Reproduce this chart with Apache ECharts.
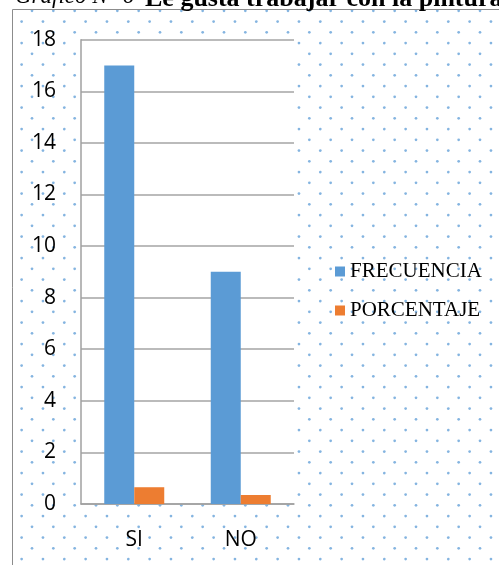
<!DOCTYPE html>
<html>
<head>
<meta charset="utf-8">
<script src="https://cdn.jsdelivr.net/npm/echarts@6/dist/echarts.min.js"></script>
<style>
  html, body { margin: 0; padding: 0; background: #fff; }
  #chart { width: 499px; height: 565px; }
</style>
</head>
<body>
<div id="chart"></div>
<script>
// datos del gráfico
var categorias = ["SI", "NO"];
var frecuencia = [17, 9];
var porcentaje = [0.65, 0.35];
var nombresSeries = ["FRECUENCIA", "PORCENTAJE"];
var ejeY = { min: 0, max: 18, interval: 2 };

// fondo punteado (patrón de puntos azules)
function patronPuntos() {
  var W = 64, H = 43;
  var c = document.createElement("canvas");
  c.width = W;
  c.height = H;
  var ctx = c.getContext("2d");
  ctx.fillStyle = "rgba(91,155,213,0.75)";
  var dx = W / 3, dy = H / 4;
  for (var r = 0; r < 4; r++) {
    var y = 0.05 + r * dy;
    var off = r % 2 == 1 ? 10.67 : 0.3;
    for (var k = 0; k < 3; k++) {
      var x = off + k * dx;
      for (var ox = -1; ox <= 1; ox++) {
        for (var oy = -1; oy <= 1; oy++) {
          ctx.beginPath();
          ctx.arc(x + ox * W, y + oy * H, 1.35, 0, Math.PI * 2);
          ctx.fill();
        }
      }
    }
  }
  return c;
}

var myChart = echarts.init(document.getElementById("chart"));

var option = {
  backgroundColor: "#fff",
  animation: false,
  graphic: [
    {
      type: "rect",
      z: -10,
      silent: true,
      shape: { x: 12.5, y: 9.5, width: 500, height: 570 },
      style: {
        fill: { image: patronPuntos(), repeat: "repeat" },
        stroke: "#8c8c8c",
        lineWidth: 1
      }
    },
    {
      type: "text",
      left: 15,
      top: -15,
      style: {
        text: "Gráfico N° 6",
        font: "italic 23px 'Liberation Serif'",
        fill: "#000"
      }
    },
    {
      type: "text",
      left: 145,
      top: -13.5,
      style: {
        text: "Le gusta trabajar con la pintura",
        font: "bold 26px 'Liberation Serif'",
        fill: "#000"
      }
    }
  ],
  legend: {
    orient: "vertical",
    left: 335,
    top: 261,
    padding: 0,
    itemGap: 18,
    itemWidth: 10,
    itemHeight: 10,
    icon: "rect",
    data: nombresSeries,
    textStyle: {
      fontFamily: "Liberation Serif",
      fontSize: 21,
      lineHeight: 20,
      color: "#000"
    }
  },
  grid: {
    left: 81,
    right: 205,
    top: 39.7,
    bottom: 61,
    show: true,
    backgroundColor: "#fff",
    borderWidth: 0
  },
  xAxis: {
    type: "category",
    data: categorias,
    axisTick: { show: false },
    axisLine: { lineStyle: { color: "#a0a0a0", width: 1.5 } },
    axisLabel: {
      margin: 26,
      fontFamily: "Open Sans",
      fontSize: 21,
      color: "#000"
    }
  },
  yAxis: {
    type: "value",
    min: ejeY.min,
    max: ejeY.max,
    interval: ejeY.interval,
    axisLine: { show: true, lineStyle: { color: "#a0a0a0", width: 1.5 } },
    axisTick: { show: false },
    splitLine: { lineStyle: { color: "#a5a5a5", width: 1.5 } },
    axisLabel: {
      margin: 25,
      fontFamily: "Open Sans",
      fontSize: 21,
      color: "#000"
    }
  },
  series: [
    {
      name: nombresSeries[0],
      type: "bar",
      data: frecuencia,
      barWidth: 30,
      barGap: "0%",
      itemStyle: { color: "#5b9bd5" }
    },
    {
      name: nombresSeries[1],
      type: "bar",
      data: porcentaje,
      barWidth: 30,
      barGap: "0%",
      itemStyle: { color: "#ed7d31" }
    }
  ]
};

myChart.setOption(option);
</script>
</body>
</html>
